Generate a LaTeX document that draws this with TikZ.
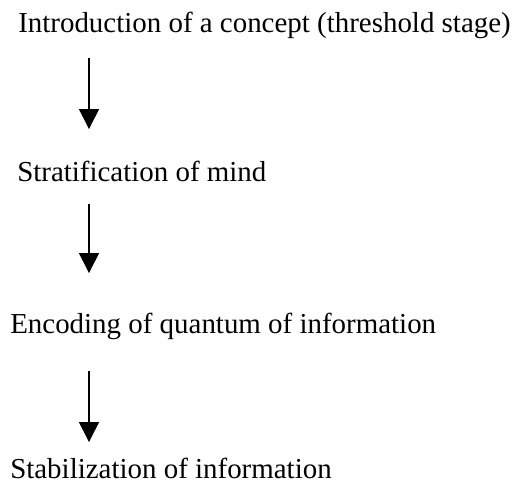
\documentclass[tikz,border=0pt]{standalone}
\usepackage{fontspec}
\setmainfont{Liberation Serif}
\usepackage{tikz}
\usetikzlibrary{calc,positioning,arrows.meta}

\tikzset{
	stage/.style={anchor=base west, inner sep=0pt, font=\fontsize{21.7}{26}\selectfont},
	flow/.style={color=black, line width=1.1pt, -{Triangle[length=15pt,width=15pt]}}
}

\begin{document}
\begin{tikzpicture}[x=0.75pt,y=-0.75pt]
		\useasboundingbox (0,0) rectangle (515,483);
		\coordinate (axis) at (89,0);

		\node[stage] (intro) at (18,32) {Introduction of a concept (threshold stage)};
		\node[stage] (strat) at (17,181) {Stratification of mind};
		\node[stage] (enc) at (10,333) {Encoding of quantum of information};
		\node[stage] (stab) at (10,478) {Stabilization of information};

		% arrows hang off the same vertical line, gaps differ a bit
		\draw[flow, shorten <=14.8pt, shorten >=23.5pt] (intro.south -| axis) -- (strat.north -| axis);
		\draw[flow, shorten <=16.5pt, shorten >=29.5pt] (strat.south -| axis) -- (enc.north -| axis);
		\draw[flow, shorten <=23.8pt, shorten >=11.5pt] (enc.south -| axis) -- (stab.north -| axis);
	\end{tikzpicture}
\end{document}
